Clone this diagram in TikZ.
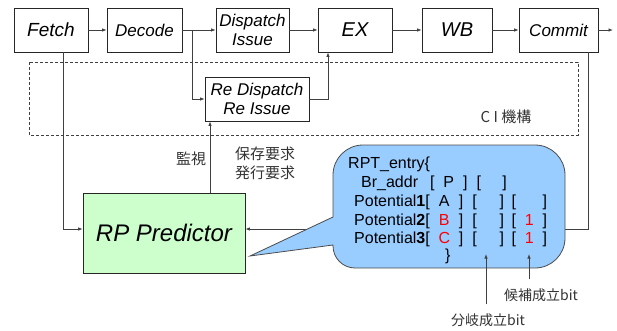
\documentclass[tikz,border=0pt]{standalone}
\usepackage{fontspec}
\setmainfont{Liberation Sans}
\newfontfamily\cjk{Noto Sans CJK JP}
\usetikzlibrary{arrows.meta}
\definecolor{predgreen}{HTML}{CCFFCC}
\definecolor{calloutblue}{HTML}{99CCFF}
\definecolor{linegray}{HTML}{404040}
\newcommand{\fld}[2]{\makebox[#1pt]{#2}}
\newcommand{\rd}[1]{\textcolor{red}{#1}}

\begin{document}
\begin{tikzpicture}[x=1pt, y=-1pt,
    >={Latex[length=4.5pt,width=3.5pt]},
    stage/.style={draw=black!85, line width=0.8pt, minimum height=44pt, inner sep=0pt,
        align=center, font=\itshape\fontsize{#1}{19}\selectfont},
    wire/.style={draw=linegray, line width=0.8pt},
    jp/.style={font=\cjk\fontsize{#1}{19}\selectfont, text=black!80, inner sep=0pt},
    entry/.style={anchor=base west, inner sep=0pt, font=\fontsize{16}{19}\selectfont}]
    \useasboundingbox (0,0) rectangle (617,331);

    \node[stage=19, minimum width=74pt] (fetch) at (51,30) {Fetch};
    \node[stage=17, minimum width=75pt] (decode) at (144.5,30) {Decode};
    \node[stage=17, minimum width=73pt] (dispatch) at (252.5,30) {Dispatch\\Issue};
    \node[stage=20, minimum width=74pt] (ex) at (355,30) {EX};
    \node[stage=20, minimum width=70pt] (wb) at (457,30) {WB};
    \node[stage=17, minimum width=79pt] (commit) at (558.5,30) {Commit};
    \node[stage=17, minimum width=104pt] (redisp) at (257,99) {Re Dispatch\\Re Issue};
    \node[stage=24, minimum width=162pt, minimum height=80pt, fill=predgreen] (rp) at (164,233) {RP Predictor};
    \coordinate (split) at (192,30);
    \coordinate (out) at (613,30);

    \draw[wire, dash pattern=on 3pt off 2pt, line width=0.7pt] (29,62) rectangle (578,135);
    \node[jp=15] (ci) at (506,117) {C I 機構};

    \draw[wire,->] (fetch) -- (decode);
    \draw[wire,->] (decode) -- (dispatch);
    \draw[wire,->] (dispatch) -- (ex);
    \draw[wire,->] (ex) -- (wb);
    \draw[wire,->] (wb) -- (commit);
    \draw[wire,->] (commit) -- (out);
    \draw[wire,->] (split) |- (redisp.west);
    \draw[wire,->] (redisp.east) -| ([xshift=-27pt]ex.south);
    \draw[wire,->] ([xshift=12pt]fetch.south) |- ([yshift=4pt]rp.west);
    \draw[wire,->] ([xshift=29.5pt]commit.south) |- ([yshift=4pt]rp.east);
    \draw[wire,->] ([xshift=46pt]rp.north) -- ([xshift=46pt]rp.north |- redisp.south);
    \node[jp=15] (kanshi) at (191,159) {監視};
    \node[jp=15, align=left] (yokyu) at (265,163) {保存要求\\発行要求};

    \filldraw[fill=calloutblue, draw=black!70, line width=0.8pt]
        (333,217) [rounded corners=30pt] -- (333,145) -- (565,145) -- (565,268)
        [rounded corners=22pt] -- (333,268) [sharp corners] -- (333,245) -- (250,256) -- cycle;

    \node[entry] (head) at (348,168) {RPT\_entry\{};
    \node[entry] (braddr) at (361,187) {Br\_addr\hspace{12pt}[\fld{28.5}{P}]\hspace{9pt}[\fld{21.5}{}]};
    \node[entry] (pot1) at (354,206) {Potential\textbf{1}[\fld{29}{A}]\hspace{9pt}[\fld{23}{}]\hspace{7.5pt}[\fld{26.5}{}]};
    \node[entry] (pot2) at (354,225) {Potential\textbf{2}[\fld{29}{\rd{B}}]\hspace{9pt}[\fld{23}{}]\hspace{7.5pt}[\fld{26.5}{\rd{1}}]};
    \node[entry] (pot3) at (354,243) {Potential\textbf{3}[\fld{29}{\rd{C}}]\hspace{9pt}[\fld{23}{}]\hspace{7.5pt}[\fld{26.5}{\rd{1}}]};
    \node[entry] (tail) at (445,260) {\}};

    \node[jp=14] (bunki) at (488,320) {分岐成立bit};
    \node[jp=14] (kouho) at (541,295) {候補成立bit};
    \coordinate (bunkitip) at (486,254);
    \coordinate (kouhotip) at (529,254);
    \draw[wire,->] (bunki.north -| bunkitip) ++(0,-9) -- (bunkitip);
    \draw[wire,->] (kouho.north -| kouhotip) ++(0,-9) -- (kouhotip);
\end{tikzpicture}
\end{document}
